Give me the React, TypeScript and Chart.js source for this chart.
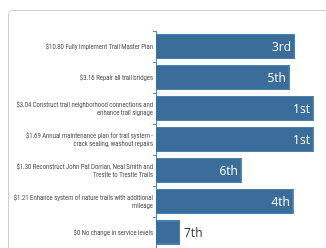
import React, { useEffect, useRef } from "react";
import { Chart, registerables } from "chart.js";

Chart.register(...registerables);

const categories: (string | string[])[] = [
  "$10.80 Fully implement Trail Master Plan",
  "$3.16 Repair all trail bridges",
  ["$3.04 Construct trail neighborhood connections and", "enhance trail signage"],
  ["$1.69 Annual maintenance plan for trail system -", "crack sealing, washout repairs"],
  ["$1.30 Reconstruct John Pat Dorrian, Neal Smith and", "Trestle to Trestle Trails"],
  ["$1.21 Enhance system of nature trails with additional", "mileage"],
  "$0 No change in service levels",
];
const scores = [88, 84.8, 100, 100, 54.4, 87.3, 15.2];
const rankLabels = ["3rd", "5th", "1st", "1st", "6th", "4th", "7th"];
const xMax = 103.2;

const LABEL_FONT = '8px Roboto, "Noto Sans", sans-serif';
const LABEL_SQUEEZE = 0.74;

const categoryLabelPlugin = {
  id: "categoryLabels",
  afterDraw(chart: any) {
    const ctx = chart.ctx;
    const yScale = chart.scales.y;
    const right = yScale.right - 3;
    ctx.save();
    ctx.font = LABEL_FONT;
    ctx.fillStyle = "#444444";
    ctx.textAlign = "right";
    ctx.textBaseline = "middle";
    categories.forEach((lab, i) => {
      const lines = Array.isArray(lab) ? lab : [lab];
      const cy = yScale.getPixelForValue(i);
      const lh = 8;
      const start = cy - ((lines.length - 1) * lh) / 2;
      lines.forEach((ln, j) => {
        ctx.save();
        ctx.translate(right, start + j * lh);
        ctx.scale(LABEL_SQUEEZE, 1);
        ctx.fillText(ln, 0, 0);
        ctx.restore();
      });
    });
    ctx.restore();
  },
};

const rankPlugin = {
  id: "rankLabels",
  afterDatasetsDraw(chart: any) {
    const ctx = chart.ctx;
    const meta = chart.getDatasetMeta(0);
    ctx.save();
    ctx.font = '12px "Open Sans", "Noto Sans", sans-serif';
    ctx.textBaseline = "middle";
    meta.data.forEach((bar: any, i: number) => {
      const w = bar.x - bar.base;
      const label = rankLabels[i];
      if (w > 40) {
        ctx.fillStyle = "#ffffff";
        ctx.textAlign = "right";
        ctx.fillText(label, bar.x - 4, bar.y + 1);
      } else {
        ctx.fillStyle = "#333333";
        ctx.textAlign = "left";
        ctx.fillText(label, bar.x + 4, bar.y + 1);
      }
    });
    ctx.restore();
  },
};

export default function App() {
  const ref = useRef<HTMLCanvasElement>(null);
  useEffect(() => {
    document.documentElement.style.overflow = "hidden";
    document.body.style.overflow = "hidden";
    const chart = new Chart(ref.current!, {
      type: "bar",
      data: {
        labels: categories,
        datasets: [
          {
            data: scores,
            backgroundColor: "#3a6d99",
            borderColor: "#4f80aa",
            borderWidth: 1,
            barPercentage: 0.8,
            categoryPercentage: 1,
          },
        ],
      },
      options: {
        indexAxis: "y",
        animation: false,
        responsive: false,
        maintainAspectRatio: false,
        layout: { padding: { left: 0, right: 20, top: 20, bottom: 13 } },
        plugins: { legend: { display: false }, tooltip: { enabled: false } },
        scales: {
          x: { display: false, min: 0, max: xMax },
          y: {
            afterFit(scale: any) {
              scale.width = 147;
            },
            border: { display: true, color: "#5a86b0", width: 1 },
            grid: {
              offset: true,
              drawOnChartArea: false,
              drawTicks: true,
              tickLength: 3,
              color: "#5a86b0",
            },
            ticks: { display: false },
          },
        },
      },
      plugins: [rankPlugin, categoryLabelPlugin],
    });
    return () => chart.destroy();
  }, []);
  return (
    <div
      style={{
        position: "fixed",
        left: 8,
        top: 10,
        width: 340,
        height: 260,
        border: "1px solid #cfcfcf",
        borderRadius: 4,
        boxSizing: "border-box",
        background: "#fff",
      }}
    >
      <canvas
        ref={ref}
        width={330}
        height={250}
        style={{ position: "absolute", left: 0, top: 0, width: 330, height: 250 }}
      />
    </div>
  );
}
